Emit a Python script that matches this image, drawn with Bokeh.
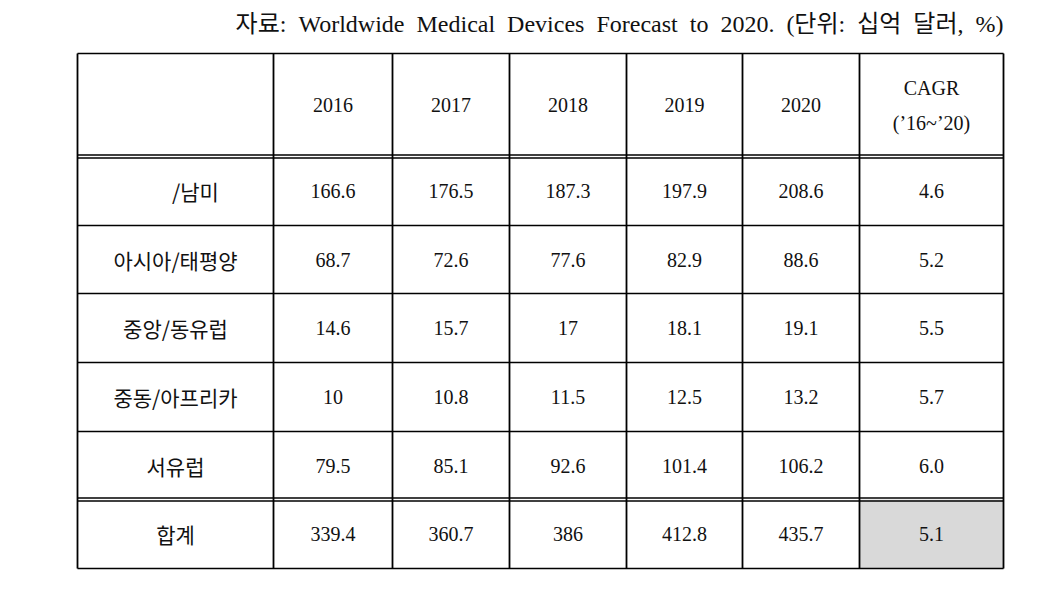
from bokeh.plotting import figure
from bokeh.models import Range1d
from bokeh.core.properties import value
from bokeh.embed import file_html
from bokeh.resources import INLINE

# ---- data ----
SP = "\u2002"
title_words = ["자료:", "Worldwide", "Medical", "Devices", "Forecast", "to", "2020.", "(단위:", "십억", "달러,", "%)"]
title_text = SP.join(title_words)
years = ["2016", "2017", "2018", "2019", "2020"]
cagr_header = ["CAGR", "(\u201916~\u201920)"]
regions = ["/남미", "아시아/태평양", "중앙/동유럽", "중동/아프리카", "서유럽", "합계"]
v2016 = [166.6, 68.7, 14.6, 10, 79.5, 339.4]
v2017 = [176.5, 72.6, 15.7, 10.8, 85.1, 360.7]
v2018 = [187.3, 77.6, 17, 11.5, 92.6, 386]
v2019 = [197.9, 82.9, 18.1, 12.5, 101.4, 412.8]
v2020 = [208.6, 88.6, 19.1, 13.2, 106.2, 435.7]
cagr = ["4.6", "5.2", "5.5", "5.7", "6.0", "5.1"]

# ---- layout (pixels) ----
col_edges = [77, 273, 392, 509, 626, 742, 859, 1003]
row_edges = [53, 156, 225, 293, 362, 431, 499, 568]
double_rows = [156, 499]
region_dx = [20, 0, 0, 0, 0, 0]

SERIF = value("Liberation Serif, Noto Sans CJK KR")
KR = value("Noto Sans CJK KR")

p = figure(width=1044, height=579, output_backend="svg", toolbar_location=None,
           x_range=Range1d(0, 1044), y_range=Range1d(579, 0), min_border=0)
p.axis.visible = False
p.grid.visible = False
p.outline_line_color = None
p.background_fill_color = "white"

# shaded cell (CAGR of total)
p.quad(left=[col_edges[6]], right=[col_edges[7]], bottom=[row_edges[6]], top=[row_edges[7]],
       fill_color="#d9d9d9", line_color=None)

# horizontal lines
x0, x1 = col_edges[0], col_edges[-1]
hx0, hx1, hy = [], [], []
for y in row_edges:
    if y in double_rows:
        for d in (-1.5, 1.5):
            hx0.append(x0); hx1.append(x1); hy.append(y + d)
    else:
        hx0.append(x0); hx1.append(x1); hy.append(y)
p.segment(x0=hx0, x1=hx1, y0=hy, y1=hy, line_color="black", line_width=1.6)

# vertical lines
y0, y1 = row_edges[0], row_edges[-1]
p.segment(x0=col_edges, x1=col_edges, y0=[y0] * len(col_edges), y1=[y1] * len(col_edges),
          line_color="black", line_width=1.8)

def cx(i):
    return (col_edges[i] + col_edges[i + 1]) / 2

def cy(j):
    return (row_edges[j] + row_edges[j + 1]) / 2

# header
p.text(x=[cx(i + 1) for i in range(len(years))], y=[cy(0)] * len(years), text=years,
       text_font=SERIF, text_font_size="20px", text_align="center", text_baseline="middle",
       text_color="#111111")
p.text(x=[cx(6)] * 2, y=[cy(0) - 17, cy(0) + 18], text=cagr_header,
       text_font=SERIF, text_font_size="20px", text_align="center", text_baseline="middle",
       text_color="#111111")

# region labels
p.text(x=[cx(0) + d for d in region_dx], y=[cy(j + 1) for j in range(len(regions))], text=regions,
       text_font=KR, text_font_size="21px", text_align="center", text_baseline="middle",
       text_color="#111111")

# values
cols = [v2016, v2017, v2018, v2019, v2020]
for i, col in enumerate(cols):
    p.text(x=[cx(i + 1)] * len(col), y=[cy(j + 1) for j in range(len(col))],
           text=[str(v) for v in col],
           text_font=SERIF, text_font_size="20px", text_align="center", text_baseline="middle",
           text_color="#111111")
p.text(x=[cx(6)] * len(cagr), y=[cy(j + 1) for j in range(len(cagr))], text=cagr,
       text_font=SERIF, text_font_size="20px", text_align="center", text_baseline="middle",
       text_color="#111111")

# title / source note
p.text(x=[col_edges[-1]], y=[23], text=[title_text],
       text_font=SERIF, text_font_size="24px", text_align="right", text_baseline="middle",
       text_color="#111111")

open("out.html", "w").write(file_html(p, INLINE))
